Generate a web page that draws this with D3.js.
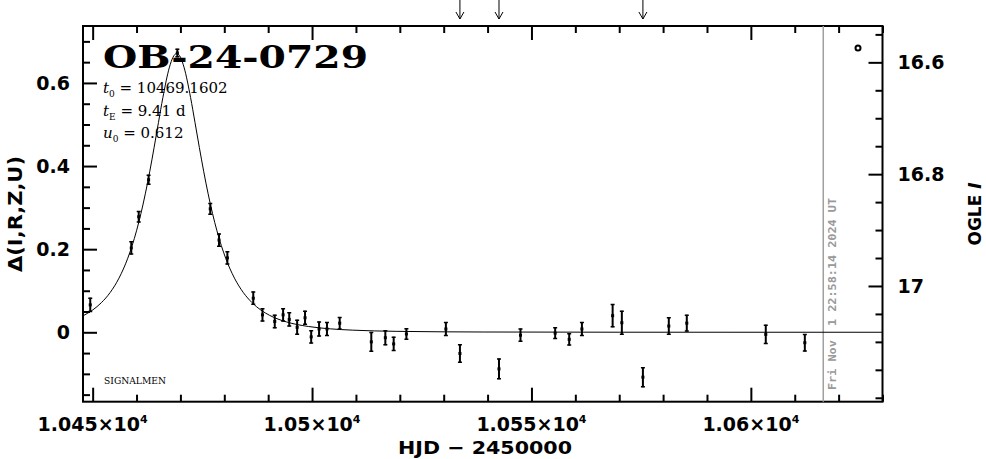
<!DOCTYPE html>
<html>
<head>
<meta charset="utf-8">
<script src="https://cdn.jsdelivr.net/npm/d3@7"></script>
<style>
  html, body { margin: 0; padding: 0; background: #fff; }
  svg { display: block; }
</style>
</head>
<body>
<svg id="chart" width="986" height="459"></svg>
<script>
// ---- data ----
const obsTimes = [10449.45, 10458.8, 10460.5, 10462.75, 10469.3, 10476.8, 10478.8, 10480.7,
  10486.6, 10488.7, 10491.5, 10493.4, 10494.8, 10496.6, 10498.4, 10499.8, 10501.6, 10503.4,
  10506.3, 10513.5, 10516.7, 10518.6, 10521.5, 10530.5, 10533.7, 10542.6, 10547.5, 10555.4,
  10558.6, 10561.5, 10568.5, 10570.6, 10575.4, 10581.3, 10585.4, 10603.4, 10612.3];
const obsDelta = [0.066, 0.203, 0.278, 0.367, 0.672, 0.297, 0.222, 0.179,
  0.082, 0.042, 0.026, 0.042, 0.031, 0.012, 0.035, -0.011, 0.008, 0.008,
  0.022, -0.023, -0.013, -0.028, -0.004, 0.008, -0.051, -0.088, -0.007, -0.002,
  -0.017, 0.008, 0.040, 0.023, -0.108, 0.015, 0.022, -0.005, -0.025];
const obsErr = [0.017, 0.016, 0.014, 0.012, 0.010, 0.014, 0.016, 0.016,
  0.016, 0.016, 0.016, 0.016, 0.017, 0.018, 0.017, 0.016, 0.018, 0.017,
  0.015, 0.024, 0.018, 0.017, 0.014, 0.017, 0.022, 0.025, 0.016, 0.014,
  0.015, 0.017, 0.028, 0.029, 0.024, 0.021, 0.020, 0.023, 0.021];

const modelTimes = [10447.8, 10450, 10452, 10454, 10456, 10458, 10460, 10461, 10462, 10463, 10464,
  10465, 10466, 10467.5, 10468.3, 10469.16, 10470.02, 10470.82, 10472.32, 10473.32, 10474.32,
  10475.32, 10476.32, 10477.32, 10478.32, 10480.32, 10482.32, 10484.32, 10486.32, 10488.32,
  10490.32, 10494.16, 10499.16, 10504.16, 10509.16, 10519.16, 10539.16, 10570, 10630];
const modelDelta = [0.0397, 0.0536, 0.0714, 0.0959, 0.1303, 0.1782, 0.2443, 0.2857, 0.3331, 0.3863, 0.4444,
  0.5051, 0.5646, 0.6379, 0.6617, 0.6709, 0.6617, 0.6379, 0.5646, 0.5051, 0.4444,
  0.3863, 0.3331, 0.2857, 0.2443, 0.1782, 0.1303, 0.0959, 0.0714, 0.0536,
  0.0408, 0.0250, 0.0140, 0.0083, 0.0052, 0.0023, 0.0007, 0.0002, 0.0001];

const arrowTimes = [10533.7, 10542.6, 10575.4];
const nowTime = 10616.5;

const xMajorTicks = [10450, 10500, 10550, 10600];
const xTickMantissa = ["1.045", "1.05", "1.055", "1.06"];
const yLeftTicks = [0, 0.2, 0.4, 0.6];
const yLeftLabels = ["0", "0.2", "0.4", "0.6"];
const yRightTicks = [16.6, 16.8, 17];
const yRightLabels = ["16.6", "16.8", "17"];

const title = "OB-24-0729";
const params = [["t", "0", " = 10469.1602"], ["t", "E", " = 9.41 d"], ["u", "0", " = 0.612"]];
const stamp = "Fri Nov  1 22:58:14 2024 UT";

// ---- layout ----
const L = 83, R = 882.5, T = 26, B = 401.7;
const svg = d3.select("#chart");

const x = d3.scaleLinear().domain([10447.8, 10630.0]).range([L, R]);
const y = d3.scaleLinear().domain([-0.167, 0.737]).range([B, T]);
const yR = d3.scaleLinear().domain([17.207, 16.535]).range([B, T]);

const fontB = "'DejaVu Sans', sans-serif";

svg.append("defs").append("clipPath").attr("id", "clip")
  .append("rect").attr("x", L).attr("y", T).attr("width", R - L).attr("height", B - T);

function styleAxis(g) {
  g.select(".domain").remove();
  g.selectAll("line").attr("stroke", "#000").attr("stroke-width", 2);
  g.selectAll("text").remove();
}

// minor ticks
const xMinor = d3.range(10450, 10631, 10).filter(v => !xMajorTicks.includes(v));
const yMinor = d3.range(-0.15, 0.7001, 0.05).map(v => +v.toFixed(2)).filter(v => !yLeftTicks.some(t => Math.abs(t - v) < 1e-6));
const yRMinor = d3.range(16.55, 17.2001, 0.05).map(v => +v.toFixed(2)).filter(v => !yRightTicks.some(t => Math.abs(t - v) < 1e-6));

// bottom
svg.append("g").attr("transform", `translate(0,${B})`)
  .call(d3.axisBottom(x).tickValues(xMajorTicks).tickSizeInner(-14).tickSizeOuter(0)).call(styleAxis);
svg.append("g").attr("transform", `translate(0,${B})`)
  .call(d3.axisBottom(x).tickValues(xMinor).tickSizeInner(-7).tickSizeOuter(0)).call(styleAxis);
// top
svg.append("g").attr("transform", `translate(0,${T})`)
  .call(d3.axisTop(x).tickValues(xMajorTicks).tickSizeInner(-14).tickSizeOuter(0)).call(styleAxis);
svg.append("g").attr("transform", `translate(0,${T})`)
  .call(d3.axisTop(x).tickValues(xMinor).tickSizeInner(-7).tickSizeOuter(0)).call(styleAxis);
// left
svg.append("g").attr("transform", `translate(${L},0)`)
  .call(d3.axisLeft(y).tickValues(yLeftTicks).tickSizeInner(-14).tickSizeOuter(0)).call(styleAxis);
svg.append("g").attr("transform", `translate(${L},0)`)
  .call(d3.axisLeft(y).tickValues(yMinor).tickSizeInner(-7).tickSizeOuter(0)).call(styleAxis);
// right
svg.append("g").attr("transform", `translate(${R},0)`)
  .call(d3.axisRight(yR).tickValues(yRightTicks).tickSizeInner(-14).tickSizeOuter(0)).call(styleAxis);
svg.append("g").attr("transform", `translate(${R},0)`)
  .call(d3.axisRight(yR).tickValues(yRMinor).tickSizeInner(-7).tickSizeOuter(0)).call(styleAxis);

// frame
svg.append("rect").attr("x", L).attr("y", T).attr("width", R - L).attr("height", B - T)
  .attr("fill", "none").attr("stroke", "#000").attr("stroke-width", 2);

// tick labels
svg.selectAll(".yl").data(yLeftTicks).join("text")
  .attr("x", L - 13).attr("y", d => y(d) + 7).attr("text-anchor", "end")
  .attr("font-family", fontB).attr("font-weight", "bold").attr("font-size", 19)
  .text((d, i) => yLeftLabels[i]);
svg.selectAll(".yr").data(yRightTicks).join("text")
  .attr("x", R + 15).attr("y", d => yR(d) + 7).attr("text-anchor", "start")
  .attr("font-family", fontB).attr("font-weight", "bold").attr("font-size", 19)
  .text((d, i) => yRightLabels[i]);
const xl = svg.selectAll(".xl").data(xMajorTicks).join("text")
  .attr("x", d => x(d)).attr("y", 431).attr("text-anchor", "middle")
  .attr("font-family", fontB).attr("font-weight", "bold").attr("font-size", 19);
xl.append("tspan").text((d, i) => xTickMantissa[i] + "\u00d710");
xl.append("tspan").attr("dy", -8).attr("font-size", 11).text("4");

// axis titles
svg.append("text").attr("x", 485).attr("y", 454).attr("text-anchor", "middle")
  .attr("font-family", fontB).attr("font-weight", "bold").attr("font-size", 18)
  .attr("textLength", 174).attr("lengthAdjust", "spacingAndGlyphs")
  .text("HJD  \u2212  2450000");
svg.append("text").attr("transform", `translate(22,214) rotate(-90)`).attr("text-anchor", "middle")
  .attr("font-family", fontB).attr("font-weight", "bold").attr("font-size", 19)
  .attr("textLength", 116).attr("lengthAdjust", "spacingAndGlyphs")
  .text("\u0394(I,R,Z,U)");
const rl = svg.append("text").attr("transform", `translate(981,214) rotate(-90)`).attr("text-anchor", "middle")
  .attr("font-family", fontB).attr("font-weight", "bold").attr("font-size", 17);
rl.append("tspan").text("OGLE ");
rl.append("tspan").attr("font-style", "italic").text("I");

// gray "now" line and timestamp
svg.append("line").attr("x1", x(nowTime)).attr("x2", x(nowTime)).attr("y1", T).attr("y2", B)
  .attr("stroke", "#a0a0a0").attr("stroke-width", 1.5);
svg.append("text").attr("transform", `translate(${x(nowTime) + 13},294) rotate(-90)`)
  .attr("text-anchor", "middle").attr("font-family", "'DejaVu Sans Mono', monospace")
  .attr("font-weight", "bold").attr("font-size", 11).attr("fill", "#999")
  .attr("textLength", 192).attr("lengthAdjust", "spacingAndGlyphs").attr("xml:space", "preserve")
  .text(stamp);

// model curve
const plot = svg.append("g").attr("clip-path", "url(#clip)");
const line = d3.line().x(d => x(d[0])).y(d => y(d[1])).curve(d3.curveMonotoneX);
plot.append("path").datum(modelTimes.map((t, i) => [t, modelDelta[i]]))
  .attr("d", line).attr("fill", "none").attr("stroke", "#000").attr("stroke-width", 1);

// data with error bars
const pts = obsTimes.map((t, i) => ({ t, v: obsDelta[i], e: obsErr[i] }));
const gp = plot.selectAll(".pt").data(pts).join("g");
gp.append("line").attr("x1", d => x(d.t)).attr("x2", d => x(d.t))
  .attr("y1", d => y(d.v - d.e)).attr("y2", d => y(d.v + d.e))
  .attr("stroke", "#000").attr("stroke-width", 2);
gp.append("line").attr("x1", d => x(d.t) - 2).attr("x2", d => x(d.t) + 2)
  .attr("y1", d => y(d.v + d.e) + 0.5).attr("y2", d => y(d.v + d.e) + 0.5)
  .attr("stroke", "#000").attr("stroke-width", 1.5);
gp.append("line").attr("x1", d => x(d.t) - 2).attr("x2", d => x(d.t) + 2)
  .attr("y1", d => y(d.v - d.e) - 0.5).attr("y2", d => y(d.v - d.e) - 0.5)
  .attr("stroke", "#000").attr("stroke-width", 1.5);
gp.append("rect").attr("x", d => x(d.t) - 1.5).attr("y", d => y(d.v) - 1.5)
  .attr("width", 3).attr("height", 3).attr("fill", "#000");

// arrows at top
const ga = svg.selectAll(".arr").data(arrowTimes).join("g");
ga.append("path").attr("d", d => `M${x(d)},0 L${x(d)},19 M${x(d) - 4},12 L${x(d)},19 L${x(d) + 4},12`)
  .attr("fill", "none").attr("stroke", "#000").attr("stroke-width", 1);

// small circle (top right)
svg.append("circle").attr("cx", 858).attr("cy", 48).attr("r", 2.5)
  .attr("fill", "none").attr("stroke", "#000").attr("stroke-width", 2);

// title and params
svg.append("text").attr("x", 103).attr("y", 68)
  .attr("font-family", "'DejaVu Serif', serif").attr("font-weight", "bold").attr("font-size", 32)
  .attr("textLength", 265).attr("lengthAdjust", "spacingAndGlyphs").text(title);
const pt = svg.selectAll(".par").data(params).join("text")
  .attr("x", 103).attr("y", (d, i) => 93 + i * 22.5)
  .attr("font-family", "'DejaVu Serif', serif").attr("font-size", 15);
pt.append("tspan").attr("font-style", "italic").text(d => d[0]);
pt.append("tspan").attr("dy", 4).attr("font-size", 9).text(d => d[1]);
pt.append("tspan").attr("dy", -4).attr("xml:space", "preserve").text(d => d[2]);

svg.append("text").attr("x", 104).attr("y", 384)
  .attr("font-family", "'DejaVu Serif', serif").attr("font-size", 9)
  .attr("textLength", 62).attr("lengthAdjust", "spacingAndGlyphs").text("SIGNALMEN");
</script>
</body>
</html>
